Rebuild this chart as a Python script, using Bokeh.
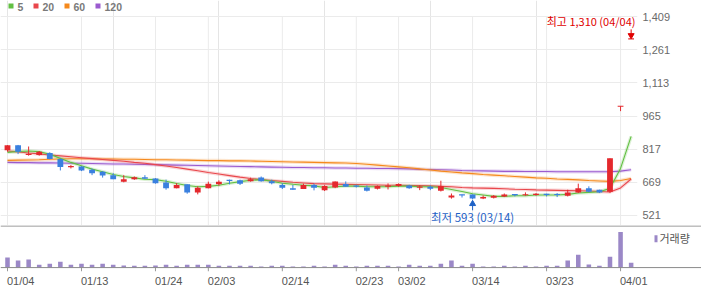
import numpy as np
from bokeh.plotting import figure
from bokeh.models import Range1d, FixedTicker, NumeralTickFormatter, Span
from bokeh.embed import file_html
from bokeh.resources import INLINE
from bokeh.core.properties import value

# ---------------- data ----------------
dates = ["01/04", "01/05", "01/06", "01/07", "01/10", "01/11", "01/12", "01/13", "01/14", "01/17",
         "01/18", "01/19", "01/20", "01/21", "01/24", "01/25", "01/26", "01/27", "01/28", "02/03",
         "02/04", "02/07", "02/08", "02/09", "02/10", "02/11", "02/14", "02/15", "02/16", "02/17",
         "02/18", "02/21", "02/22", "02/23", "02/24", "02/25", "02/28", "03/02", "03/03", "03/04",
         "03/07", "03/08", "03/10", "03/11", "03/14", "03/15", "03/16", "03/17", "03/18", "03/21",
         "03/22", "03/23", "03/24", "03/25", "03/28", "03/29", "03/30", "03/31", "04/01", "04/04"]

opens = [812, 835, 792, 791, 800, 773, 738, 740, 725, 716,
         701, 672, 683, 692, 686, 668, 642, 660, 624, 642,
         660, 681, 678, 674, 690, 674, 657, 642, 639, 657,
         634, 646, 661, 655, 646, 640, 650, 652, 655, 646,
         649, 631, 601, 614, 615, 597, 600, 606, 615, 612,
         612, 618, 616, 609, 624, 642, 636, 627, 1009, 1310]
highs = [835, 836, 829, 809, 803, 776, 746, 741, 731, 719,
         710, 701, 695, 701, 688, 681, 665, 660, 651, 672,
         678, 681, 681, 690, 695, 681, 665, 657, 663, 663,
         656, 673, 673, 658, 655, 655, 664, 664, 658, 655,
         655, 676, 619, 614, 615, 610, 612, 619, 615, 624,
         621, 618, 621, 636, 663, 651, 636, 776, 1009, 1310]
lows = [806, 795, 788, 788, 772, 722, 731, 719, 701, 690,
        683, 669, 680, 685, 663, 636, 642, 618, 615, 642,
        654, 660, 657, 672, 672, 660, 639, 636, 639, 633,
        630, 643, 649, 646, 628, 637, 637, 649, 640, 634,
        634, 628, 596, 601, 593, 594, 597, 603, 606, 609,
        609, 606, 603, 606, 621, 624, 621, 622, 987, 1310]
closes = [835, 806, 795, 806, 773, 737, 741, 722, 710, 699,
          683, 683, 692, 685, 665, 642, 657, 624, 645, 663,
          672, 675, 663, 683, 674, 665, 645, 636, 657, 645,
          652, 673, 649, 649, 631, 652, 654, 661, 643, 649,
          640, 652, 610, 612, 597, 603, 609, 615, 613, 615,
          618, 612, 613, 624, 642, 627, 624, 776, 1009, 1310]
volumes = [1030, 730, 830, 300, 400, 600, 300, 400, 300, 400,
           300, 210, 200, 200, 210, 290, 200, 300, 290, 300,
           200, 190, 200, 200, 110, 200, 190, 110, 120, 200,
           110, 300, 200, 110, 190, 200, 200, 110, 300, 190,
           200, 400, 730, 200, 400, 110, 110, 200, 110, 200,
           110, 190, 200, 730, 1300, 310, 200, 1100, 3630, 500]

ma5 = [803, 807, 809, 806, 794, 776, 758, 743, 728, 716,
       704, 695, 689, 683, 681, 674, 664, 655, 649, 651,
       656, 665, 672, 678, 681, 674, 665, 660, 656, 653,
       646, 649, 652, 652, 649, 649, 649, 652, 652, 649,
       649, 646, 637, 628, 618, 612, 606, 606, 609, 609,
       612, 612, 612, 615, 621, 624, 627, 642, 731, 874]
ma20 = [809, 805, 800, 796, 791, 787, 783, 779, 775, 771,
        767, 763, 758, 754, 748, 742, 735, 728, 721, 713,
        706, 699, 692, 686, 681, 677, 673, 669, 666, 663,
        662, 661, 660, 659, 658, 657, 656, 656, 655, 655,
        653, 651, 649, 646, 644, 643, 642, 640, 638, 637,
        635, 634, 633, 632, 631, 630, 628, 626, 644, 684]
ma60 = [767, 768, 769, 770, 772, 773, 774, 774, 774, 773,
        773, 772, 772, 771, 770, 770, 769, 768, 767, 766,
        766, 765, 765, 764, 763, 762, 761, 760, 759, 758,
        757, 756, 755, 753, 750, 746, 742, 738, 734, 729,
        724, 719, 715, 711, 708, 704, 701, 698, 695, 692,
        689, 687, 684, 682, 680, 677, 675, 673, 677, 686]
ma120 = [758, 757, 757, 756, 756, 755, 754, 754, 753, 752,
         751, 751, 750, 749, 748, 747, 746, 745, 744, 743,
         742, 741, 740, 739, 738, 737, 736, 735, 735, 734,
         734, 733, 733, 732, 732, 731, 731, 730, 729, 727,
         726, 725, 724, 722, 721, 720, 719, 718, 718, 717,
         717, 717, 716, 716, 716, 716, 716, 716, 719, 725]

ma_names = ["5", "20", "60", "120"]
ma_colors = ["#62c043", "#e9474c", "#f5891c", "#9b5bcf"]
tick_labels = ["01/04", "01/13", "01/24", "02/03", "02/14", "02/23", "03/02", "03/14", "03/23", "04/01"]
price_ticks = [521, 669, 817, 965, 1113, 1261, 1409]

# ---------------- layout constants ----------------
W = 701
LEG_H = 16          # legend band at the top of the price pane
FRAME_H = 209       # price area below the legend band
AXIS_W = 64
VOL_H = 64
VOL_AXIS_H = 17
VOL_BASE_PX = 43
VOL_MAX_PX = 36.3
PPD = 10.57
X_START = -7 / PPD
X_END_MAIN = X_START + (W - AXIS_W) / PPD
X_END_VOL = X_START + W / PPD
Y_MIN, Y_MAX = 476, 1410
PY = (Y_MAX - Y_MIN) / FRAME_H
Y_TOP = Y_MAX + LEG_H * PY
LABEL_SHIFT = 1.25  # date labels start at their tick

RED = "#e4282d"
BLUE = "#3a80df"
GRID = "#ebebeb"
NUM_FONT = "Liberation Sans"
KR_FONT = "Noto Sans CJK KR"

def px_x(px):
    return X_START + px / PPD

def top_y(py):
    return Y_TOP - py * PY

idx = list(range(len(dates)))
tick_idx = [dates.index(t) for t in tick_labels]

# ---------------- main price pane ----------------
main = figure(width=W, height=LEG_H + FRAME_H,
              x_range=Range1d(X_START, X_END_MAIN), y_range=Range1d(Y_MIN, Y_TOP),
              x_axis_location=None, y_axis_location="right",
              toolbar_location=None, output_backend="svg",
              min_border_left=0, min_border_right=AXIS_W, min_border_top=0, min_border_bottom=0,
              outline_line_color=None)

ax = main.yaxis[0]
ax.ticker = FixedTicker(ticks=price_ticks)
ax.formatter = NumeralTickFormatter(format="0,0")
ax.axis_line_color = None
ax.major_tick_line_color = None
ax.minor_tick_line_color = None
ax.major_tick_out = 0
ax.major_tick_in = 0
ax.major_label_standoff = 5
ax.major_label_text_font = NUM_FONT
ax.major_label_text_font_size = "11px"
ax.major_label_text_color = "#6a6a6a"
main.ygrid.grid_line_color = GRID

# vertical date grid, only below the legend band
main.segment(x0=tick_idx, x1=tick_idx, y0=[Y_MIN] * len(tick_idx), y1=[Y_MAX] * len(tick_idx),
             line_color=GRID, line_width=1)

# legend band
LEG_SQ_X = [10.5, 35.5, 66.5, 97.5]
main.rect(x=[px_x(s) for s in LEG_SQ_X], y=[top_y(5.5)] * 4, width=5, height=5,
          width_units="screen", height_units="screen", fill_color=ma_colors, line_color=None)
main.text(x=[px_x(s + 6.5) for s in LEG_SQ_X], y=[top_y(6)] * 4, text=ma_names, text_font=value(NUM_FONT),
          text_font_size="10.5px", text_font_style="bold", text_color="#7a7a7a",
          text_align="left", text_baseline="middle")

for vals, col in list(zip([ma5, ma20, ma60, ma120], ma_colors))[::-1]:
    main.line(idx, vals, line_color=col, line_width=3.5, line_alpha=0.22)
    main.line(idx, vals, line_color=col, line_width=1.1)

cols = [RED if c >= o else BLUE for o, c in zip(opens, closes)]
min_body = 1.2 * PY
btop, bbot = [], []
for o, c in zip(opens, closes):
    t, b = max(o, c), min(o, c)
    if t - b < min_body:
        m = (t + b) / 2
        t, b = m + min_body / 2, m - min_body / 2
    btop.append(t)
    bbot.append(b)
main.segment(x0=idx, y0=lows, x1=idx, y1=highs, line_color=cols, line_width=1)
main.vbar(x=idx, top=btop, bottom=bbot, width=0.55, fill_color=cols, line_color=None)

# high / low annotations
hi_i = int(np.argmax(highs))
lo_i = int(np.argmin(lows))
hi_v, lo_v = highs[hi_i], lows[lo_i]
HI_C, LO_C = "#e00000", "#1f62c6"
main.segment(x0=[hi_i], x1=[hi_i], y0=[hi_v + 2 * PY], y1=[hi_v + 9.5 * PY], line_color=HI_C, line_width=1)
main.scatter(x=[hi_i], y=[hi_v + 3.5 * PY], marker="inverted_triangle", size=6, fill_color=HI_C, line_color=HI_C)
main.text(x=[X_END_MAIN - 2 / PPD], y=[hi_v + 17.7 * PY], text=[f"최고 {hi_v:,} ({dates[hi_i]})"],
          text_font=value(KR_FONT), text_font_size="11px", text_color=HI_C,
          text_align="right", text_baseline="middle")
main.segment(x0=[lo_i], x1=[lo_i], y0=[lo_v - 3 * PY], y1=[lo_v - 11 * PY], line_color=LO_C, line_width=1)
main.scatter(x=[lo_i], y=[lo_v - 4.5 * PY], marker="triangle", size=6, fill_color=LO_C, line_color=LO_C)
main.text(x=[lo_i], y=[lo_v - 17.8 * PY], text=[f"최저 {lo_v:,} ({dates[lo_i]})"],
          text_font=value(KR_FONT), text_font_size="11.5px", text_color=LO_C,
          text_align="center", text_baseline="middle")

# ---------------- volume pane ----------------
K = max(volumes) / VOL_MAX_PX
VOL_FRAME_H = VOL_H - VOL_AXIS_H
vol = figure(width=W, height=VOL_H,
             x_range=Range1d(X_START, X_END_VOL),
             y_range=Range1d(-(VOL_FRAME_H - VOL_BASE_PX) * K, VOL_BASE_PX * K),
             y_axis_location=None, toolbar_location=None, output_backend="svg",
             min_border_left=0, min_border_right=0, min_border_top=0, min_border_bottom=VOL_AXIS_H,
             outline_line_color=None)
vol.xgrid.visible = False
vol.ygrid.visible = False
xa = vol.xaxis[0]
label_ticks = [i + LABEL_SHIFT for i in tick_idx]
xa.ticker = FixedTicker(ticks=label_ticks)
xa.major_label_overrides = {t: s for t, s in zip(label_ticks, tick_labels)}
xa.axis_line_color = None
xa.major_tick_line_color = None
xa.minor_tick_line_color = None
xa.major_tick_out = 0
xa.major_tick_in = 0
xa.major_label_standoff = 3
xa.major_label_text_font = NUM_FONT
xa.major_label_text_font_size = "11px"
xa.major_label_text_color = "#555555"

vol.add_layout(Span(location=(VOL_BASE_PX - 0.5) * K, dimension="width", line_color="#7d7d7d", line_width=1))
vol.add_layout(Span(location=0, dimension="width", line_color="#8a8a8a", line_width=1))
vol.segment(x0=tick_idx, x1=tick_idx, y0=[0] * len(tick_idx),
            y1=[-(VOL_FRAME_H - VOL_BASE_PX) * K] * len(tick_idx), line_color="#999999", line_width=1)
vol.vbar(x=idx, top=volumes, bottom=0, width=0.43, fill_color="#9b88c7", line_color=None)

# volume legend
vol.rect(x=[px_x(655.5)], y=[(VOL_BASE_PX - 13.5) * K], width=3, height=7,
         width_units="screen", height_units="screen", fill_color="#9b88c7", line_color=None)
vol.text(x=[px_x(659)], y=[(VOL_BASE_PX - 13) * K], text=["거래량"], text_font=value(KR_FONT),
         text_font_size="11px", text_color="#555555", text_align="left", text_baseline="middle")

open("out.html", "w").write(file_html([main, vol], INLINE))
